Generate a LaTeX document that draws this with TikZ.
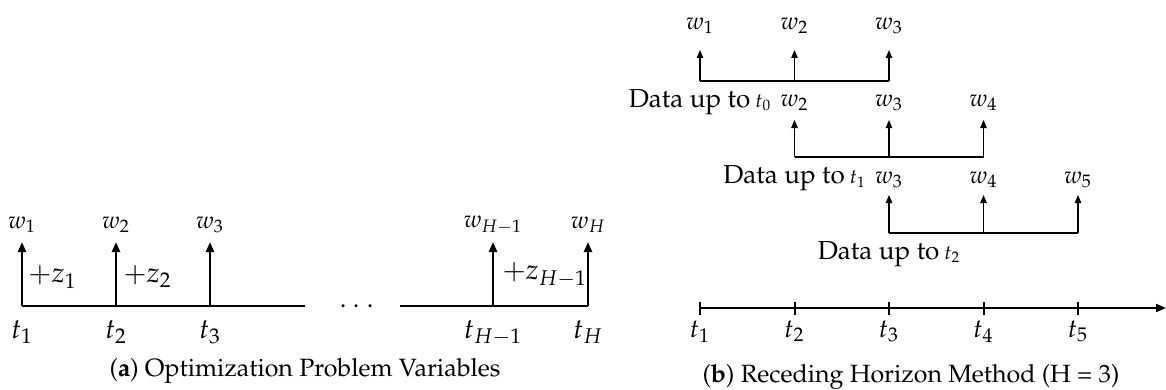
\documentclass[tikz,border=0pt]{standalone}
\usepackage[T1]{fontenc}
\usepackage{mathpazo}
\usepackage{tikz}
\usetikzlibrary{arrows.meta, positioning}

\begin{document}
\begin{tikzpicture}[x=0.5pt, y=-0.5pt,
    bigarrow/.style={line width=1.3pt, -{Triangle[length=5pt, width=4pt]}},
    smallarrow/.style={line width=0.65pt, -{Triangle[length=4pt, width=3.2pt]}},
    bigline/.style={line width=1.3pt},
    barline/.style={line width=1pt},
    wlab/.style={font=\fontsize{12}{14}\selectfont, inner sep=0pt},
    zlab/.style={font=\fontsize{14}{16}\selectfont, inner sep=0pt, anchor=west},
    tlab/.style={font=\fontsize{14}{16}\selectfont, inner sep=0pt},
    tlabb/.style={font=\fontsize{13}{15}\selectfont, inner sep=0pt},
    datalab/.style={inner sep=0pt},
    caplab/.style={font=\fontsize{12.5}{14}\selectfont, inner sep=0pt}]

    \useasboundingbox (0,0) rectangle (1166,390);

    % (a) 变量
    \coordinate (la) at (305,306);
    \coordinate (lb) at (400,306);
    \foreach \n/\x/\w/\t in {1/22/w_1/t_1, 2/116/w_2/t_2, 3/210/w_3/t_3, 4/493/w_{H-1}/t_{H-1}, 5/588/w_H/t_H} {
        \coordinate (ba\n) at (\x,306);
        \coordinate (ta\n) at (\x,242);
        \node[wlab] (wa\n) at (\x,225) {$\w$};
        \node[tlab, below=7pt of ba\n] (tia\n) {$\t$};
        \draw[bigarrow] (ba\n) -- (ta\n);
    }
    \draw[bigline] (ba1) -- (la);
    \draw[bigline] (lb) -- (ba5);
    \node[font=\fontsize{14}{16}\selectfont, inner sep=0pt] (dots) at (357,307) {$\cdots$};

    % 增量
    \node[zlab] (za1) at (28,277) {$+z_1$};
    \node[zlab] (za2) at (123,277) {$+z_2$};
    \node[zlab] (za4) at (502,275) {$+z_{H-1}$};

    % (b) 滚动时域
    \foreach \r/\yb/\yt/\yw in {0/81/50/26, 1/157/120/103, 2/233/195/180} {
        \foreach \k in {0,1,2} {
            \pgfmathtruncatemacro{\i}{\r+\k+1}
            \coordinate (b\r\k) at ({700+94.5*(\r+\k)},\yb);
            \coordinate (tp\r\k) at ({700+94.5*(\r+\k)},\yt);
            \node[wlab] (w\r\k) at ({700+94.5*(\r+\k)},\yw) {$w_{\i}$};
            \draw[smallarrow] (b\r\k) -- (tp\r\k);
        }
        \draw[barline] (b\r0) -- (b\r2);
        \node[datalab, below=4pt of b\r0] (data\r)
            {{\fontsize{13}{15}\selectfont Data up to} {\fontsize{10}{12}\selectfont $t_{\r}$}};
    }

    % 时间轴
    \coordinate (tl0) at (700,308);
    \coordinate (tlend) at (1166,308);
    \draw[line width=1pt, -{Triangle[length=5pt, width=4pt]}] (tl0) -- (tlend);
    \foreach \n in {1,...,5} {
        \coordinate (tk\n) at ({700+94.5*(\n-1)},308);
        \draw[line width=1pt] ([yshift=3.2pt]tk\n) -- ([yshift=-3.4pt]tk\n);
        \node[tlabb, below=6pt of tk\n] (tb\n) {$t_{\n}$};
    }

    % 图题
    \node[caplab] (capa) at (305,371) {(\textbf{a}) Optimization Problem Variables};
    \node[caplab] (capb) at (911,377) {(\textbf{b}) Receding Horizon Method (H = 3)};
\end{tikzpicture}
\end{document}
